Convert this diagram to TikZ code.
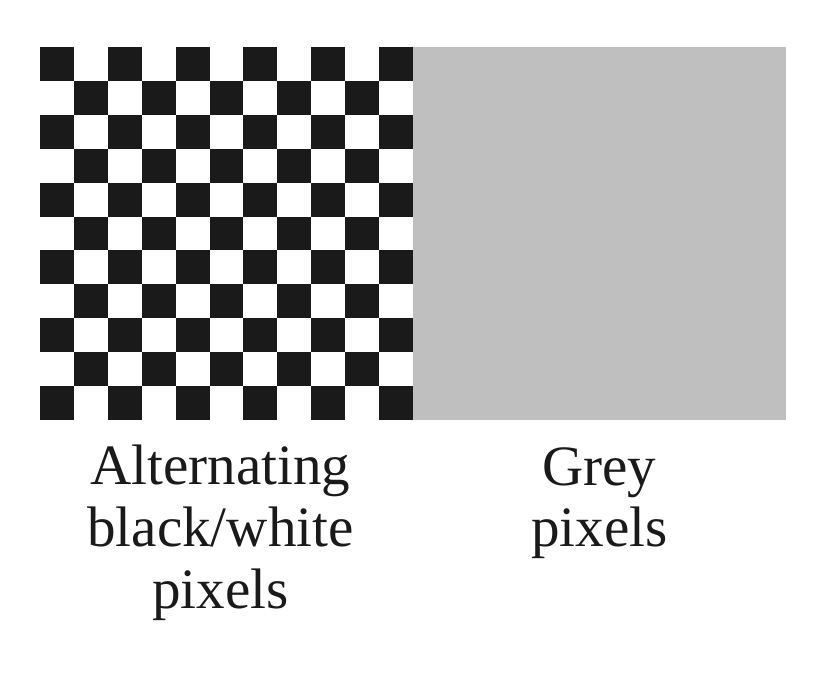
\documentclass[tikz,border=0pt]{standalone}
\usepackage{fontspec}
\setmainfont{Liberation Serif}
\usetikzlibrary{calc, positioning}
\definecolor{pixblack}{HTML}{1A1A1A}
\definecolor{pixgrey}{HTML}{BFBFBF}
\tikzset{
  panel/.style    ={minimum size=7.46cm, inner sep=0pt, outer sep=0pt, anchor=north west},
  cell/.style     ={fill=pixblack},
  greyblock/.style={panel, fill=pixgrey},
  lbl/.style      ={font=\fontsize{32.5}{35.2}\selectfont, align=center, text=pixblack, inner sep=0pt},
}
\begin{document}
\begin{tikzpicture}[x=0.02cm, y=0.02cm]
  \useasboundingbox (0,0) rectangle (835,695);
  % LEFT: checkerboard, 11 x 11 cells
  \node[panel] (board) at (40,648) {};
  \foreach \i in {0,...,10}{
    \foreach \j in {0,...,10}{
      \pgfmathtruncatemacro{\parity}{mod(\i+\j,2)}
      \ifnum\parity=0
        \fill[cell] ($(board.north west)+(\i*33.909,-\j*33.909)$) rectangle ++(33.909,-33.909);
      \fi
    }
  }
  % RIGHT: flat grey
  \node[greyblock] (grey) at (413,648) {};
  % labels
  \node[lbl, below=0.5cm of board, xshift=-0.12cm] (boardlbl) {Alternating\\black/white\\pixels};
  \node[lbl, below=0.54cm of grey] (greylbl) {Grey\\pixels};
\end{tikzpicture}
\end{document}
